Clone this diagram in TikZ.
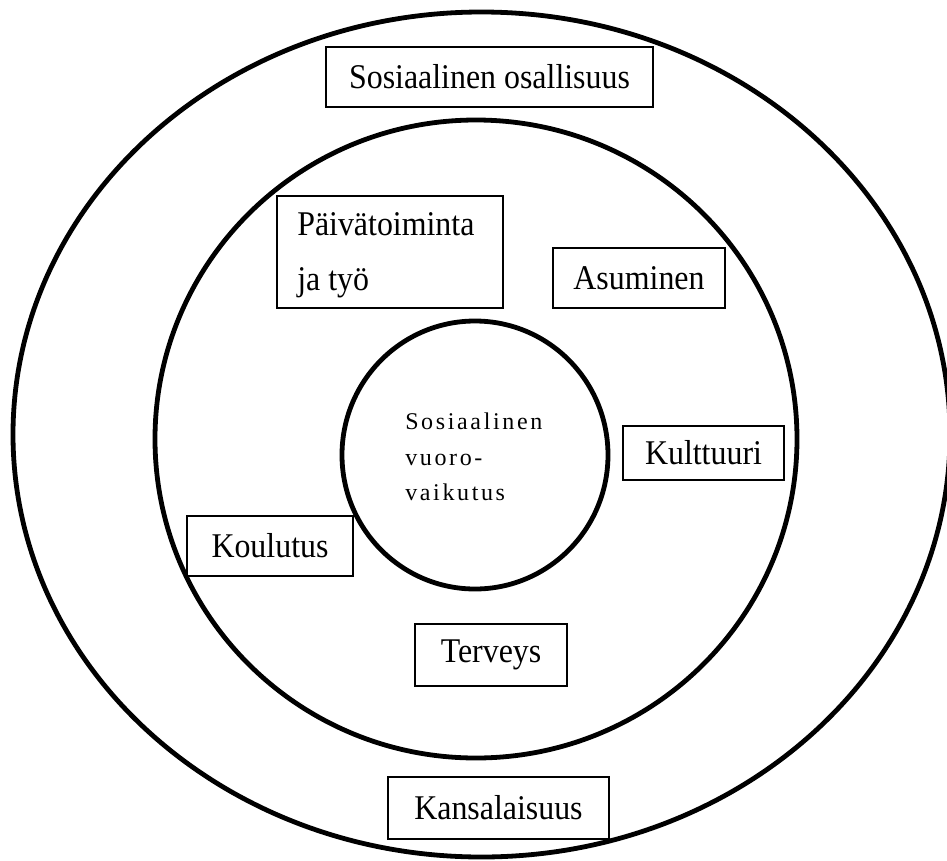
\documentclass[tikz,border=0pt]{standalone}
\usepackage{fontspec}
\setmainfont{Liberation Serif}
\newfontfamily\boxfont[FakeStretch=0.92]{Liberation Serif}
\newfontfamily\spacedfont[LetterSpace=11]{Liberation Serif}
\usetikzlibrary{shapes.geometric}
\begin{document}
\begin{tikzpicture}[x=0.75pt,y=-0.75pt,
  ring/.style={draw, ellipse, line width=3.6pt, inner sep=0pt},
  labelbox/.style={draw, rectangle, line width=1pt, inner sep=0pt,
    font=\boxfont\fontsize{26}{31}\selectfont},
  plaintext/.style={inner sep=0pt, anchor=base west, font=\boxfont\fontsize{26}{31}\selectfont},
  innertxt/.style={inner sep=0pt, anchor=base west, font=\spacedfont\fontsize{18}{27}\selectfont}]
\useasboundingbox (0,0) rectangle (947,861);
\node[ring, minimum width=702.75pt, minimum height=633.75pt] (outer) at (481.5,434.5) {};
\node[ring, minimum width=481.5pt, minimum height=478.5pt] (middle) at (476,439) {};
\node[ring, minimum width=199.5pt, minimum height=201pt] (inner) at (475,455) {};
\node[innertxt] (inner1) at (405,429) {Sosiaalinen};
\node[innertxt] (inner2) at (405,465) {vuoro-};
\node[innertxt] (inner3) at (405,500) {vaikutus};
\node[labelbox, minimum width=245.25pt, minimum height=45pt] (osallisuus) at (489.5,77) {Sosiaalinen osallisuus};
\node[labelbox, minimum width=169.5pt, minimum height=84pt] (paiva) at (390,252) {};
\node[plaintext] (paiva1) at (297,235) {Päivätoiminta};
\node[plaintext] (paiva2) at (297,290) {ja työ};
\node[labelbox, minimum width=129pt, minimum height=45pt] (asuminen) at (639,278) {Asuminen};
\node[labelbox, minimum width=120.75pt, minimum height=40.5pt] (kulttuuri) at (703.5,453) {Kulttuuri};
\node[labelbox, minimum width=124.5pt, minimum height=45pt] (koulutus) at (270,546) {Koulutus};
\node[labelbox, minimum width=114pt, minimum height=46.5pt] (terveys) at (491,655) {Terveys};
\node[labelbox, minimum width=165.75pt, minimum height=46.5pt] (kansalaisuus) at (498.5,808) {Kansalaisuus};
\end{tikzpicture}
\end{document}
